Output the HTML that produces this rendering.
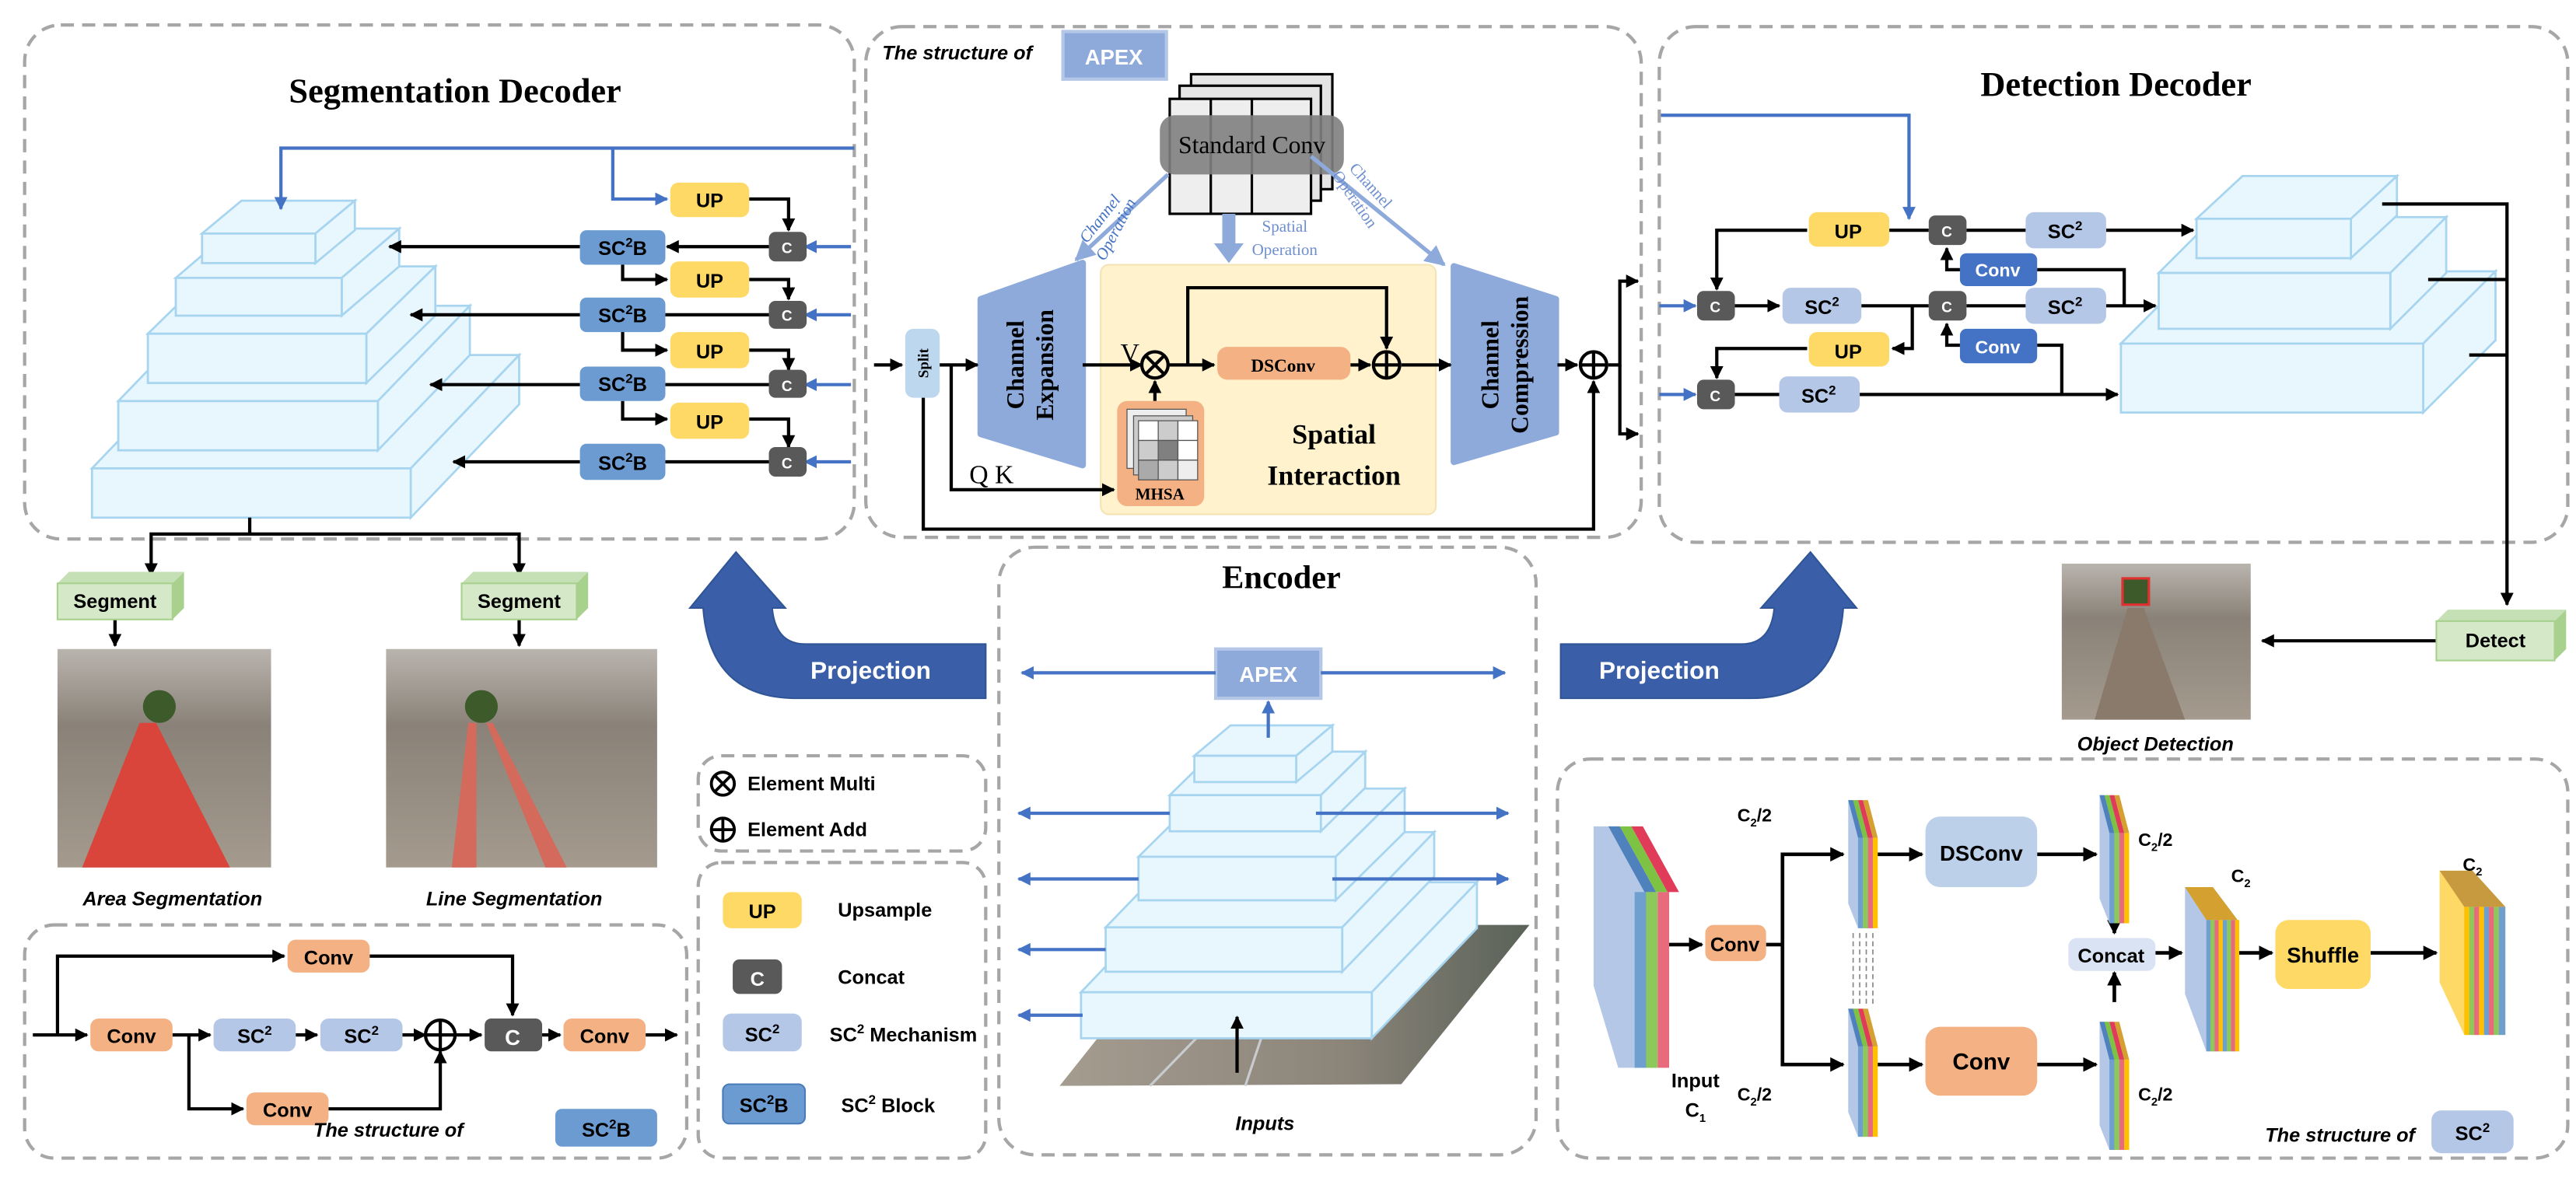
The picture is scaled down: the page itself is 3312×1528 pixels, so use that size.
<!DOCTYPE html>
<html><head><meta charset="utf-8"><style>
html,body{margin:0;padding:0;background:#fff}
svg{display:block}
.t{font-family:"Liberation Sans",sans-serif;font-weight:bold}
.s{font-family:"Liberation Serif",serif}
</style></head><body>
<svg width="3312" height="1528" viewBox="0 0 1568 723" xmlns="http://www.w3.org/2000/svg">
<defs>
<marker id="a" viewBox="0 0 10 10" refX="9" refY="5" markerWidth="4" markerHeight="4" orient="auto"><path d="M0,0L10,5L0,10z" fill="#000"/></marker>
<marker id="b" viewBox="0 0 10 10" refX="9" refY="5" markerWidth="4" markerHeight="4" orient="auto"><path d="M0,0L10,5L0,10z" fill="#4472c4"/></marker>
<marker id="lb" viewBox="0 0 10 10" refX="9" refY="5" markerWidth="5" markerHeight="5" orient="auto"><path d="M0,0L10,5L0,10z" fill="#8eaadb"/></marker>
<linearGradient id="ph" x1="0" y1="0" x2="0" y2="1"><stop offset="0" stop-color="#b9b4ae"/><stop offset="0.35" stop-color="#8a8278"/><stop offset="1" stop-color="#a49a8e"/></linearGradient>
<linearGradient id="fl" x1="0" y1="0" x2="1" y2="0"><stop offset="0" stop-color="#a59c90"/><stop offset="0.6" stop-color="#8c857a"/><stop offset="1" stop-color="#5a6258"/></linearGradient>
</defs>
<g fill="none" stroke="#a6a6a6" stroke-width="2" stroke-dasharray="8,5">
<rect x="15" y="15" width="505" height="313" rx="22"/>
<rect x="527" y="16" width="472" height="311" rx="22"/>
<rect x="1010" y="16" width="553" height="314" rx="22"/>
<rect x="608" y="333" width="327" height="370" rx="22"/>
<rect x="425" y="460" width="175" height="58" rx="14"/>
<rect x="425" y="525" width="175" height="180" rx="14"/>
<rect x="15" y="563" width="403" height="142" rx="18"/>
<rect x="948" y="462" width="615" height="243" rx="20"/>
</g>

<!-- Segmentation decoder -->
<text x="277" y="62" class="s" font-size="21" font-weight="bold" text-anchor="middle">Segmentation Decoder</text>
<g fill="#e8f6fd" stroke="#a7d5f0" stroke-width="1.3">
<polygon points="56,285 122,216 316,216 250,285"/><polygon points="250,285 316,216 316,246 250,315"/><rect x="56" y="285" width="194" height="30"/>
<polygon points="72,244 128,186 286,186 230,244"/><polygon points="230,244 286,186 286,216 230,274"/><rect x="72" y="244" width="158" height="30"/>
<polygon points="90,203 132,162 265,162 223,203"/><polygon points="223,203 265,162 265,192 223,233"/><rect x="90" y="203" width="133" height="30"/>
<polygon points="107,169 142,139 243,139 208,169"/><polygon points="208,169 243,139 243,162 208,192"/><rect x="107" y="169" width="101" height="23"/>
<polygon points="123,142 147,122 216,122 192,142"/><polygon points="192,142 216,122 216,140 192,160"/><rect x="123" y="142" width="69" height="18"/>
</g>
<g stroke="#4472c4" stroke-width="2" fill="none">
<polyline points="520,90 171,90 171,127" marker-end="url(#b)"/>
<polyline points="373,90 373,121 406,121" marker-end="url(#b)"/>
<line x1="518" y1="150" x2="490" y2="150" marker-end="url(#b)"/>
<line x1="518" y1="191.5" x2="490" y2="191.5" marker-end="url(#b)"/>
<line x1="518" y1="234" x2="490" y2="234" marker-end="url(#b)"/>
<line x1="518" y1="281" x2="490" y2="281" marker-end="url(#b)"/>
</g>
<g stroke="#000" stroke-width="2" fill="none">
<polyline points="456,121 480,121 480,140" marker-end="url(#a)"/>
<polyline points="456,170 480,170 480,182" marker-end="url(#a)"/>
<polyline points="456,213 480,213 480,225" marker-end="url(#a)"/>
<polyline points="456,255 480,255 480,272" marker-end="url(#a)"/>
<line x1="468" y1="150" x2="406" y2="150" marker-end="url(#a)"/>
<line x1="468" y1="191.5" x2="405" y2="191.5"/>
<line x1="468" y1="234" x2="405" y2="234"/>
<line x1="468" y1="281" x2="405" y2="281"/>
<line x1="353" y1="150" x2="237" y2="150" marker-end="url(#a)"/>
<line x1="353" y1="191.5" x2="250" y2="191.5" marker-end="url(#a)"/>
<line x1="353" y1="234" x2="262" y2="234" marker-end="url(#a)"/>
<line x1="353" y1="281" x2="276" y2="281" marker-end="url(#a)"/>
<polyline points="379,160 379,170 406,170" marker-end="url(#a)"/>
<polyline points="379,201 379,213 406,213" marker-end="url(#a)"/>
<polyline points="379,244 379,255 406,255" marker-end="url(#a)"/>
<polyline points="152,315 152,325 92,325 92,350" marker-end="url(#a)"/>
<polyline points="152,325 316,325 316,350" marker-end="url(#a)"/>
<line x1="70" y1="377" x2="70" y2="393" marker-end="url(#a)"/>
<line x1="316" y1="377" x2="316" y2="393" marker-end="url(#a)"/>
</g>
<g class="t" font-size="12" text-anchor="middle">
<rect x="408" y="111" width="48" height="21" rx="5" fill="#ffd966"/><text x="432" y="126">UP</text>
<rect x="408" y="159" width="48" height="22" rx="5" fill="#ffd966"/><text x="432" y="175">UP</text>
<rect x="408" y="202" width="48" height="22" rx="5" fill="#ffd966"/><text x="432" y="218">UP</text>
<rect x="408" y="245" width="48" height="22" rx="5" fill="#ffd966"/><text x="432" y="261">UP</text>
<g fill="#fff" font-size="9"><rect x="468" y="141" width="23" height="18" rx="4" fill="#595959"/><text x="479" y="154">C</text>
<rect x="468" y="183" width="23" height="17" rx="4" fill="#595959"/><text x="479" y="195">C</text>
<rect x="468" y="225" width="23" height="17" rx="4" fill="#595959"/><text x="479" y="238">C</text>
<rect x="468" y="272" width="23" height="18" rx="4" fill="#595959"/><text x="479" y="285">C</text></g>
<g><rect x="353" y="140" width="52" height="21" rx="4" fill="#6b9bd1"/><text x="379" y="155">SC<tspan font-size="8" dy="-5">2</tspan><tspan dy="5">B</tspan></text>
<rect x="353" y="181" width="52" height="21" rx="4" fill="#6b9bd1"/><text x="379" y="196">SC<tspan font-size="8" dy="-5">2</tspan><tspan dy="5">B</tspan></text>
<rect x="353" y="223" width="52" height="21" rx="4" fill="#6b9bd1"/><text x="379" y="238">SC<tspan font-size="8" dy="-5">2</tspan><tspan dy="5">B</tspan></text>
<rect x="353" y="270" width="52" height="22" rx="4" fill="#6b9bd1"/><text x="379" y="286">SC<tspan font-size="8" dy="-5">2</tspan><tspan dy="5">B</tspan></text></g>
<polygon points="35,355 42,348 112,348 105,355" fill="#c5e0b4"/><polygon points="105,355 112,348 112,370 105,377" fill="#a9d18e"/><rect x="35" y="355" width="70" height="22" fill="#d5e8c8" stroke="#a9d18e"/><text x="70" y="370">Segment</text>
<polygon points="281,355 288,348 358,348 351,355" fill="#c5e0b4"/><polygon points="351,355 358,348 358,370 351,377" fill="#a9d18e"/><rect x="281" y="355" width="70" height="22" fill="#d5e8c8" stroke="#a9d18e"/><text x="316" y="370">Segment</text>
</g>
<!-- photos -->
<rect x="35" y="395" width="130" height="133" fill="url(#ph)"/>
<polygon points="85,440 95,440 140,528 50,528" fill="#d9453a"/>
<circle cx="97" cy="430" r="10" fill="#3d5a2a"/>
<rect x="235" y="395" width="165" height="133" fill="url(#ph)"/>
<polygon points="285,440 290,440 290,528 275,528" fill="#d46a5c"/><polygon points="296,440 300,440 345,528 332,528" fill="#d46a5c"/>
<circle cx="293" cy="430" r="10" fill="#3d5a2a"/>
<text x="105" y="551" class="t" font-size="12" font-style="italic" text-anchor="middle">Area Segmentation</text>
<text x="313" y="551" class="t" font-size="12" font-style="italic" text-anchor="middle">Line Segmentation</text>

<!-- SC2B structure -->
<g stroke="#000" stroke-width="2" fill="none">
<line x1="20" y1="630" x2="53" y2="630" marker-end="url(#a)"/>
<polyline points="35,630 35,582 173,582" marker-end="url(#a)"/>
<line x1="105" y1="630" x2="128" y2="630" marker-end="url(#a)"/>
<line x1="180" y1="630" x2="193" y2="630" marker-end="url(#a)"/>
<line x1="245" y1="630" x2="259" y2="630" marker-end="url(#a)"/>
<polyline points="115,630 115,675 148,675" marker-end="url(#a)"/>
<polyline points="200,675 268,675 268,640" marker-end="url(#a)"/>
<polyline points="225,582 312,582 312,618" marker-end="url(#a)"/>
<line x1="277" y1="630" x2="293" y2="630" marker-end="url(#a)"/>
<line x1="330" y1="630" x2="341" y2="630" marker-end="url(#a)"/>
<line x1="393" y1="630" x2="412" y2="630" marker-end="url(#a)"/>
<circle cx="268" cy="630" r="9"/><line x1="259" y1="630" x2="277" y2="630"/><line x1="268" y1="621" x2="268" y2="639"/>
</g>
<g class="t" font-size="12" text-anchor="middle">
<rect x="55" y="620" width="50" height="20" rx="5" fill="#f4b183"/><text x="80" y="635">Conv</text>
<rect x="175" y="572" width="50" height="20" rx="5" fill="#f4b183"/><text x="200" y="587">Conv</text>
<rect x="150" y="665" width="50" height="20" rx="5" fill="#f4b183"/><text x="175" y="680">Conv</text>
<rect x="343" y="620" width="50" height="20" rx="5" fill="#f4b183"/><text x="368" y="635">Conv</text>
<rect x="130" y="620" width="50" height="20" rx="5" fill="#b4c7e7"/><text x="155" y="635">SC<tspan font-size="8" dy="-5">2</tspan></text>
<rect x="195" y="620" width="50" height="20" rx="5" fill="#b4c7e7"/><text x="220" y="635">SC<tspan font-size="8" dy="-5">2</tspan></text>
<rect x="295" y="620" width="35" height="20" rx="4" fill="#595959"/><text x="312" y="636" fill="#fff" font-size="13">C</text>
<text x="282" y="692" font-size="12" font-style="italic" text-anchor="end">The structure of</text>
<rect x="338" y="675" width="62" height="23" rx="4" fill="#6b9bd1"/><text x="369" y="692">SC<tspan font-size="8" dy="-5">2</tspan><tspan dy="5">B</tspan></text>
</g>

<!-- Legend -->
<g stroke="#000" stroke-width="1.8" fill="none">
<circle cx="440" cy="477" r="7"/><line x1="435" y1="472" x2="445" y2="482"/><line x1="445" y1="472" x2="435" y2="482"/>
<circle cx="440" cy="505" r="7"/><line x1="433" y1="505" x2="447" y2="505"/><line x1="440" y1="498" x2="440" y2="512"/>
</g>
<g class="t" font-size="12">
<text x="455" y="481">Element Multi</text><text x="455" y="509">Element Add</text>
<rect x="440" y="543" width="48" height="22" rx="5" fill="#ffd966"/><text x="464" y="559" text-anchor="middle">UP</text><text x="510" y="558">Upsample</text>
<rect x="446" y="584" width="30" height="21" rx="4" fill="#595959"/><text x="461" y="600" fill="#fff" text-anchor="middle">C</text><text x="510" y="599">Concat</text>
<rect x="440" y="617" width="48" height="23" rx="5" fill="#b4c7e7"/><text x="464" y="634" text-anchor="middle">SC<tspan font-size="8" dy="-5">2</tspan></text><text x="505" y="634">SC<tspan font-size="8" dy="-5">2</tspan><tspan dy="5"> Mechanism</tspan></text>
<rect x="440" y="660" width="50" height="24" rx="4" fill="#6b9bd1" stroke="#4a7cb8"/><text x="465" y="677" text-anchor="middle">SC<tspan font-size="8" dy="-5">2</tspan><tspan dy="5">B</tspan></text><text x="512" y="677">SC<tspan font-size="8" dy="-5">2</tspan><tspan dy="5"> Block</tspan></text>
</g>

<!-- APEX structure -->
<text x="537" y="36" class="t" font-size="12" font-style="italic">The structure of</text>
<rect x="647" y="19" width="63" height="29" fill="#8eaadb" stroke="#b4c7e7" stroke-width="2"/>
<text x="678" y="39" class="t" font-size="13" fill="#fff" text-anchor="middle">APEX</text>
<g stroke="#000" stroke-width="1.5" fill="#e5e5e5">
<rect x="725" y="45" width="86" height="70"/><rect x="718" y="52" width="86" height="70"/><rect x="712" y="60" width="86" height="70" fill="#eeeeee"/>
<line x1="737" y1="60" x2="737" y2="130"/><line x1="762" y1="60" x2="762" y2="130"/>
</g>
<rect x="706" y="70" width="112" height="36" rx="9" fill="#7f7f7f" opacity="0.9"/>
<text x="762" y="93" class="s" font-size="15" text-anchor="middle">Standard Conv</text>
<g stroke="#8eaadb" stroke-width="2.5" fill="none">
<line x1="711" y1="106" x2="655" y2="158" marker-end="url(#lb)"/>
<line x1="798" y1="95" x2="879" y2="161" marker-end="url(#lb)"/>
</g>
<polygon points="744,130 752,130 752,148 757,148 748,160 739,148 744,148" fill="#8eaadb"/>
<g class="s" font-size="10" fill="#4472c4">
<text transform="translate(672,135) rotate(-52)" text-anchor="middle" font-style="italic">Channel</text>
<text transform="translate(682,141) rotate(-62)" text-anchor="middle" font-style="italic">Operation</text>
<text x="782" y="141" text-anchor="middle" fill="#6f8fcf">Spatial</text>
<text x="782" y="155" text-anchor="middle" fill="#6f8fcf">Operation</text>
<text transform="translate(832,115) rotate(48)" text-anchor="middle" fill="#6f8fcf">Channel</text>
<text transform="translate(822,123) rotate(55)" text-anchor="middle" fill="#6f8fcf">Operation</text>
</g>
<rect x="670" y="161" width="204" height="152" rx="5" fill="#fff2cc" stroke="#f3e3b5"/>
<path d="M597,182 L659,160 L659,283 L597,264 Z" fill="#8eaadb" stroke="#8eaadb" stroke-width="4" stroke-linejoin="round"/>
<path d="M885,162 L947,182 L947,263 L885,281 Z" fill="#8eaadb" stroke="#8eaadb" stroke-width="4" stroke-linejoin="round"/>
<g class="s" font-size="15" font-weight="bold" text-anchor="middle">
<text transform="translate(623,222) rotate(-90)">Channel</text><text transform="translate(641,222) rotate(-90)">Expansion</text>
<text transform="translate(912,222) rotate(-90)">Channel</text><text transform="translate(930,222) rotate(-90)">Compression</text>
</g>
<rect x="551" y="200" width="21" height="42" rx="5" fill="#bdd7ee"/>
<text transform="translate(565,221) rotate(-90)" class="s" font-size="9" font-weight="bold" text-anchor="middle">Split</text>
<g stroke="#000" stroke-width="2" fill="none">
<line x1="532" y1="222" x2="549" y2="222" marker-end="url(#a)"/>
<line x1="572" y1="222" x2="595" y2="222" marker-end="url(#a)"/>
<line x1="659" y1="222" x2="695" y2="222" marker-end="url(#a)"/>
<line x1="711" y1="222" x2="739" y2="222" marker-end="url(#a)"/>
<polyline points="723,222 723,175 844,175 844,212" marker-end="url(#a)"/>
<line x1="822" y1="222" x2="834" y2="222" marker-end="url(#a)"/>
<line x1="853" y1="222" x2="883" y2="222" marker-end="url(#a)"/>
<line x1="948" y1="222" x2="960" y2="222" marker-end="url(#a)"/>
<line x1="703" y1="244" x2="703" y2="232" marker-end="url(#a)"/>
<polyline points="579,222 579,298 678,298" marker-end="url(#a)"/>
<polyline points="562,242 562,322 970,322 970,232" marker-end="url(#a)"/>
<polyline points="979,222 986,222 986,171 997,171" marker-end="url(#a)"/>
<polyline points="986,222 986,264 997,264" marker-end="url(#a)"/>
<circle cx="703" cy="222" r="8" fill="#fff2cc"/><line x1="697" y1="216" x2="709" y2="228"/><line x1="709" y1="216" x2="697" y2="228"/>
<circle cx="844" cy="222" r="8" fill="#fff2cc"/><line x1="836" y1="222" x2="852" y2="222"/><line x1="844" y1="214" x2="844" y2="230"/>
<circle cx="970" cy="222" r="8" fill="#fff"/><line x1="962" y1="222" x2="978" y2="222"/><line x1="970" y1="214" x2="970" y2="230"/>
</g>
<rect x="741" y="211" width="81" height="20" rx="6" fill="#f4b183"/>
<text x="781" y="226" class="s" font-size="11" font-weight="bold" text-anchor="middle">DSConv</text>
<text x="682" y="220" class="s" font-size="16">V</text>
<text x="590" y="294" class="s" font-size="16">Q  K</text>
<rect x="680" y="244" width="53" height="64" rx="6" fill="#f4b183"/>
<g stroke="#555" stroke-width="0.6"><rect x="686" y="249" width="36" height="36" fill="#eee"/><rect x="690" y="253" width="36" height="36" fill="#ccc"/>
<rect x="693" y="256" width="12" height="12" fill="#fff"/><rect x="705" y="256" width="12" height="12" fill="#ccc"/><rect x="717" y="256" width="12" height="12" fill="#fff"/>
<rect x="693" y="268" width="12" height="12" fill="#ccc"/><rect x="705" y="268" width="12" height="12" fill="#808080"/><rect x="717" y="268" width="12" height="12" fill="#fff"/>
<rect x="693" y="280" width="12" height="12" fill="#aaa"/><rect x="705" y="280" width="12" height="12" fill="#ccc"/><rect x="717" y="280" width="12" height="12" fill="#eee"/></g>
<text x="706" y="304" class="s" font-size="10" font-weight="bold" text-anchor="middle">MHSA</text>
<text x="812" y="270" class="s" font-size="17" font-weight="bold" text-anchor="middle">Spatial</text>
<text x="812" y="295" class="s" font-size="17" font-weight="bold" text-anchor="middle">Interaction</text>

<!-- Detection decoder -->
<text x="1288" y="58" class="s" font-size="21" font-weight="bold" text-anchor="middle">Detection Decoder</text>
<g fill="#e8f6fd" stroke="#a7d5f0" stroke-width="1.3">
<polygon points="1291,209 1335,165 1519,165 1475,209"/><polygon points="1475,209 1519,165 1519,207 1475,251"/><rect x="1291" y="209" width="184" height="42"/>
<polygon points="1314,166 1348,132 1489,132 1455,166"/><polygon points="1455,166 1489,132 1489,166 1455,200"/><rect x="1314" y="166" width="141" height="34"/>
<polygon points="1337,133 1365,107 1459,107 1431,133"/><polygon points="1431,133 1459,107 1459,131 1431,157"/><rect x="1337" y="133" width="94" height="24"/>
</g>
<g stroke="#4472c4" stroke-width="2" fill="none">
<polyline points="1011,70 1162,70 1162,133" marker-end="url(#b)"/>
<line x1="1010" y1="186" x2="1032" y2="186" marker-end="url(#b)"/>
<line x1="1010" y1="240" x2="1032" y2="240" marker-end="url(#b)"/>
</g>
<g stroke="#000" stroke-width="2" fill="none">
<polyline points="1100,140 1045,140 1045,176" marker-end="url(#a)"/>
<line x1="1150" y1="140" x2="1174" y2="140"/>
<line x1="1197" y1="140" x2="1233" y2="140"/>
<line x1="1282" y1="140" x2="1335" y2="140" marker-end="url(#a)"/>
<polyline points="1193,164 1185,164 1185,151" marker-end="url(#a)"/>
<polyline points="1240,164 1293,164 1293,186"/>
<line x1="1056" y1="186" x2="1083" y2="186" marker-end="url(#a)"/>
<line x1="1133" y1="186" x2="1174" y2="186"/>
<line x1="1197" y1="186" x2="1233" y2="186"/>
<line x1="1282" y1="186" x2="1312" y2="186" marker-end="url(#a)"/>
<polyline points="1164,186 1164,212 1152,212" marker-end="url(#a)"/>
<polyline points="1100,212 1045,212 1045,230" marker-end="url(#a)"/>
<polyline points="1193,210 1185,210 1185,197" marker-end="url(#a)"/>
<polyline points="1240,210 1255,210 1255,240"/>
<line x1="1056" y1="240" x2="1083" y2="240"/>
<line x1="1132" y1="240" x2="1289" y2="240" marker-end="url(#a)"/>
<polyline points="1450,124 1526,124 1526,368" marker-end="url(#a)"/>
<line x1="1478" y1="170" x2="1526" y2="170"/>
<line x1="1503" y1="216" x2="1526" y2="216"/>
<line x1="1483" y1="390" x2="1377" y2="390" marker-end="url(#a)"/>
</g>
<g class="t" font-size="12" text-anchor="middle">
<rect x="1101" y="129" width="49" height="21" rx="5" fill="#ffd966"/><text x="1125" y="145">UP</text>
<rect x="1101" y="202" width="49" height="21" rx="5" fill="#ffd966"/><text x="1125" y="218">UP</text>
<g fill="#fff" font-size="9">
<rect x="1174" y="131" width="23" height="18" rx="4" fill="#595959"/><text x="1185" y="144">C</text>
<rect x="1174" y="177" width="23" height="18" rx="4" fill="#595959"/><text x="1185" y="190">C</text>
<rect x="1033" y="177" width="23" height="18" rx="4" fill="#595959"/><text x="1044" y="190">C</text>
<rect x="1033" y="231" width="23" height="18" rx="4" fill="#595959"/><text x="1044" y="244">C</text>
<rect x="1193" y="154" width="47" height="20" rx="4" fill="#4472c4"/><text x="1216" y="168" font-size="11">Conv</text>
<rect x="1193" y="200" width="47" height="21" rx="4" fill="#4472c4"/><text x="1216" y="215" font-size="11">Conv</text></g>
<rect x="1233" y="129" width="49" height="22" rx="5" fill="#b4c7e7"/><text x="1257" y="145">SC<tspan font-size="8" dy="-5">2</tspan></text>
<rect x="1233" y="175" width="49" height="22" rx="5" fill="#b4c7e7"/><text x="1257" y="191">SC<tspan font-size="8" dy="-5">2</tspan></text>
<rect x="1085" y="175" width="48" height="22" rx="5" fill="#b4c7e7"/><text x="1109" y="191">SC<tspan font-size="8" dy="-5">2</tspan></text>
<rect x="1083" y="229" width="49" height="22" rx="5" fill="#b4c7e7"/><text x="1107" y="245">SC<tspan font-size="8" dy="-5">2</tspan></text>
<polygon points="1483,378 1490,371 1562,371 1555,378" fill="#c5e0b4"/><polygon points="1555,378 1562,371 1562,395 1555,402" fill="#a9d18e"/><rect x="1483" y="378" width="72" height="24" fill="#d5e8c8" stroke="#a9d18e"/><text x="1519" y="394">Detect</text>
</g>
<rect x="1255" y="343" width="115" height="95" fill="url(#ph)"/>
<polygon points="1295,370 1305,370 1330,438 1275,438" fill="#8a7a6c"/>
<rect x="1292" y="352" width="16" height="16" fill="#3d5a2a" stroke="#e03030" stroke-width="1.5"/>
<text x="1312" y="457" class="t" font-size="12" font-style="italic" text-anchor="middle">Object Detection</text>

<!-- Projection arrows -->
<path d="M600,425 L485,425 Q432,425 428,370 L420,370 L448,336 L478,370 L470,370 Q472,392 490,392 L600,392 Z" fill="#3a5fa8" stroke="#2f5597"/>
<text x="530" y="413" class="t" font-size="15" fill="#fff" text-anchor="middle">Projection</text>
<path d="M950,425 L1065,425 Q1118,425 1122,370 L1130,370 L1102,336 L1072,370 L1080,370 Q1078,392 1060,392 L950,392 Z" fill="#3a5fa8" stroke="#2f5597"/>
<text x="1010" y="413" class="t" font-size="15" fill="#fff" text-anchor="middle">Projection</text>

<!-- Encoder -->
<text x="780" y="358" class="s" font-size="20" font-weight="bold" text-anchor="middle">Encoder</text>
<polygon points="645,661 723,563 931,563 853,660" fill="url(#fl)"/>
<line x1="700" y1="661" x2="735" y2="625" stroke="#c8ccd0" stroke-width="1.5"/>
<line x1="758" y1="661" x2="770" y2="625" stroke="#c8ccd0" stroke-width="1.5"/>
<g fill="#e8f6fd" stroke="#a7d5f0" stroke-width="1.3">
<polygon points="658,604 722,537 899,537 835,604"/><polygon points="835,604 899,537 899,565 835,632"/><rect x="658" y="604" width="177" height="28"/>
<polygon points="673,564.5 729,506.5 873,506.5 817,564.5"/><polygon points="817,564.5 873,506.5 873,533.5 817,591.5"/><rect x="673" y="564.5" width="144" height="27"/>
<polygon points="693,521.5 735,480 855,480 813,521.5"/><polygon points="813,521.5 855,480 855,506.5 813,548"/><rect x="693" y="521.5" width="120" height="26.5"/>
<polygon points="712,484 739,457.5 831,457.5 804,484"/><polygon points="804,484 831,457.5 831,479.5 804,506"/><rect x="712" y="484" width="92" height="22"/>
<polygon points="727,460 749,441.5 811,441.5 789,460"/><polygon points="789,460 811,441.5 811,457.5 789,476"/><rect x="727" y="460" width="62" height="16"/>
</g>
<rect x="740" y="395" width="64" height="30" fill="#8eaadb" stroke="#b4c7e7" stroke-width="2"/>
<text x="772" y="415" class="t" font-size="13" fill="#fff" text-anchor="middle">APEX</text>
<g stroke="#4472c4" stroke-width="2" fill="none">
<line x1="740" y1="409.5" x2="622" y2="409.5" marker-end="url(#b)"/><line x1="804" y1="409.5" x2="916" y2="409.5" marker-end="url(#b)"/>
<line x1="772" y1="449" x2="772" y2="427" marker-end="url(#b)"/>
<line x1="712" y1="495" x2="620" y2="495" marker-end="url(#b)"/><line x1="801" y1="495" x2="918" y2="495" marker-end="url(#b)"/>
<line x1="693" y1="535" x2="620" y2="535" marker-end="url(#b)"/><line x1="811" y1="535" x2="918" y2="535" marker-end="url(#b)"/>
<line x1="673" y1="578" x2="620" y2="578" marker-end="url(#b)"/>
<line x1="659" y1="618" x2="620" y2="618" marker-end="url(#b)"/>
</g>
<line x1="753" y1="653" x2="753" y2="619" stroke="#000" stroke-width="2" marker-end="url(#a)"/>
<text x="770" y="688" class="t" font-size="12" font-style="italic" text-anchor="middle">Inputs</text>

<!-- SC2 structure -->
<g stroke="#000" stroke-width="2.2" fill="none">
<line x1="1016" y1="575" x2="1036" y2="575" marker-end="url(#a)"/>
<line x1="1075" y1="575" x2="1085" y2="575"/>
<polyline points="1085,575 1085,520 1122,520" marker-end="url(#a)"/>
<polyline points="1085,575 1085,648 1122,648" marker-end="url(#a)"/>
<line x1="1142" y1="520" x2="1170" y2="520" marker-end="url(#a)"/>
<line x1="1142" y1="648" x2="1170" y2="648" marker-end="url(#a)"/>
<line x1="1240" y1="520" x2="1276" y2="520" marker-end="url(#a)"/>
<line x1="1240" y1="648" x2="1276" y2="648" marker-end="url(#a)"/>
<line x1="1287" y1="558" x2="1287" y2="568" marker-end="url(#a)"/>
<line x1="1287" y1="610" x2="1287" y2="592" marker-end="url(#a)"/>
<line x1="1312" y1="580" x2="1328" y2="580" marker-end="url(#a)"/>
<line x1="1362" y1="580" x2="1383" y2="580" marker-end="url(#a)"/>
<line x1="1443" y1="580" x2="1483" y2="580" marker-end="url(#a)"/>
</g>
<g stroke="#888" stroke-width="0.8" stroke-dasharray="3,2"><line x1="1128" y1="568" x2="1128" y2="612"/><line x1="1132" y1="568" x2="1132" y2="612"/><line x1="1136" y1="568" x2="1136" y2="612"/><line x1="1140" y1="568" x2="1140" y2="612"/></g>
<polygon points="970,503 985,503 1008,543 1008,650 985,650 970,600" fill="#b4c7e7"/>
<polygon points="979,503 986,503 1008,543 1001,543" fill="#4f81bd"/><polygon points="986,503 993,503 1015,543 1008,543" fill="#7dc243"/><polygon points="993,503 1000,503 1022,543 1015,543" fill="#e03c5a"/>
<rect x="995" y="543" width="7" height="107" fill="#6f9fcf"/><rect x="1002" y="543" width="7" height="107" fill="#8dc85a"/><rect x="1009" y="543" width="7" height="107" fill="#e86b7d"/>
<g id="st">
<polygon points="1125,487 1130,487 1141,510 1141,565 1131,565 1125,550" fill="#b4c7e7"/>
<rect x="1131" y="510" width="3" height="55" fill="#6f9fcf"/><rect x="1134" y="510" width="3" height="55" fill="#8dc85a"/><rect x="1137" y="510" width="3" height="55" fill="#e86b7d"/><rect x="1140" y="510" width="3" height="55" fill="#ffc000"/>
<polygon points="1125,487 1128,487 1134,510 1131,510" fill="#4f81bd"/><polygon points="1128,487 1131,487 1137,510 1134,510" fill="#7dc243"/><polygon points="1131,487 1134,487 1140,510 1137,510" fill="#e03c5a"/><polygon points="1134,487 1137,487 1143,510 1140,510" fill="#d4a030"/>
</g>
<use href="#st" transform="translate(0,127)"/>
<use href="#st" transform="translate(153,-3)"/>
<use href="#st" transform="translate(153,135)"/>
<polygon points="1330,540 1347,540 1362,560 1362,640 1343,640 1330,605" fill="#b4c7e7"/>
<g><rect x="1343" y="560" width="2.5" height="80" fill="#6f9fcf"/><rect x="1345.5" y="560" width="2.5" height="80" fill="#8dc85a"/><rect x="1348" y="560" width="2.5" height="80" fill="#e86b7d"/><rect x="1350.5" y="560" width="2.5" height="80" fill="#ffc000"/><rect x="1353" y="560" width="2.5" height="80" fill="#6f9fcf"/><rect x="1355.5" y="560" width="2.5" height="80" fill="#8dc85a"/><rect x="1358" y="560" width="2.5" height="80" fill="#e86b7d"/><rect x="1360.5" y="560" width="2.5" height="80" fill="#ffc000"/></g>
<polygon points="1330,540 1347,540 1362,560 1343,560" fill="#d4a030"/>
<polygon points="1485,530 1505,530 1525,552 1525,630 1500,630 1485,598" fill="#ffd966"/>
<g><rect x="1500" y="552" width="3" height="78" fill="#ffc000"/><rect x="1503" y="552" width="3" height="78" fill="#8dc85a"/><rect x="1506" y="552" width="3" height="78" fill="#e86b7d"/><rect x="1509" y="552" width="3" height="78" fill="#ffc000"/><rect x="1512" y="552" width="3" height="78" fill="#6f9fcf"/><rect x="1515" y="552" width="3" height="78" fill="#e86b7d"/><rect x="1518" y="552" width="3" height="78" fill="#8dc85a"/><rect x="1521" y="552" width="4" height="78" fill="#6f9fcf"/></g>
<polygon points="1485,530 1505,530 1525,552 1500,552" fill="#c89a40"/>
<g class="t" text-anchor="middle">
<rect x="1038" y="563" width="37" height="22" rx="5" fill="#f4b183"/><text x="1056" y="579" font-size="12">Conv</text>
<rect x="1172" y="497" width="68" height="43" rx="9" fill="#bdd0e9"/><text x="1206" y="524" font-size="13">DSConv</text>
<rect x="1172" y="625" width="68" height="42" rx="9" fill="#f4b183"/><text x="1206" y="651" font-size="14">Conv</text>
<rect x="1259" y="571" width="53" height="20" rx="5" fill="#dae3f3"/><text x="1285" y="586" font-size="12">Concat</text>
<rect x="1385" y="560" width="58" height="42" rx="8" fill="#ffd966"/><text x="1414" y="586" font-size="13">Shuffle</text>
<g font-size="11"><text x="1068" y="500">C<tspan font-size="7" dy="3">2</tspan><tspan dy="-3">/2</tspan></text>
<text x="1068" y="670">C<tspan font-size="7" dy="3">2</tspan><tspan dy="-3">/2</tspan></text>
<text x="1312" y="515">C<tspan font-size="7" dy="3">2</tspan><tspan dy="-3">/2</tspan></text>
<text x="1312" y="670">C<tspan font-size="7" dy="3">2</tspan><tspan dy="-3">/2</tspan></text>
<text x="1364" y="537">C<tspan font-size="7" dy="3">2</tspan></text>
<text x="1505" y="530">C<tspan font-size="7" dy="3">2</tspan></text>
<text x="1032" y="662" font-size="12">Input</text><text x="1032" y="680" font-size="12">C<tspan font-size="7" dy="3">1</tspan></text></g>
<text x="1470" y="695" font-size="12" font-style="italic" text-anchor="end">The structure of</text>
<rect x="1480" y="676" width="50" height="26" rx="6" fill="#b4c7e7"/><text x="1505" y="694" font-size="12">SC<tspan font-size="8" dy="-5">2</tspan></text>
</g>
</svg>
</body></html>
